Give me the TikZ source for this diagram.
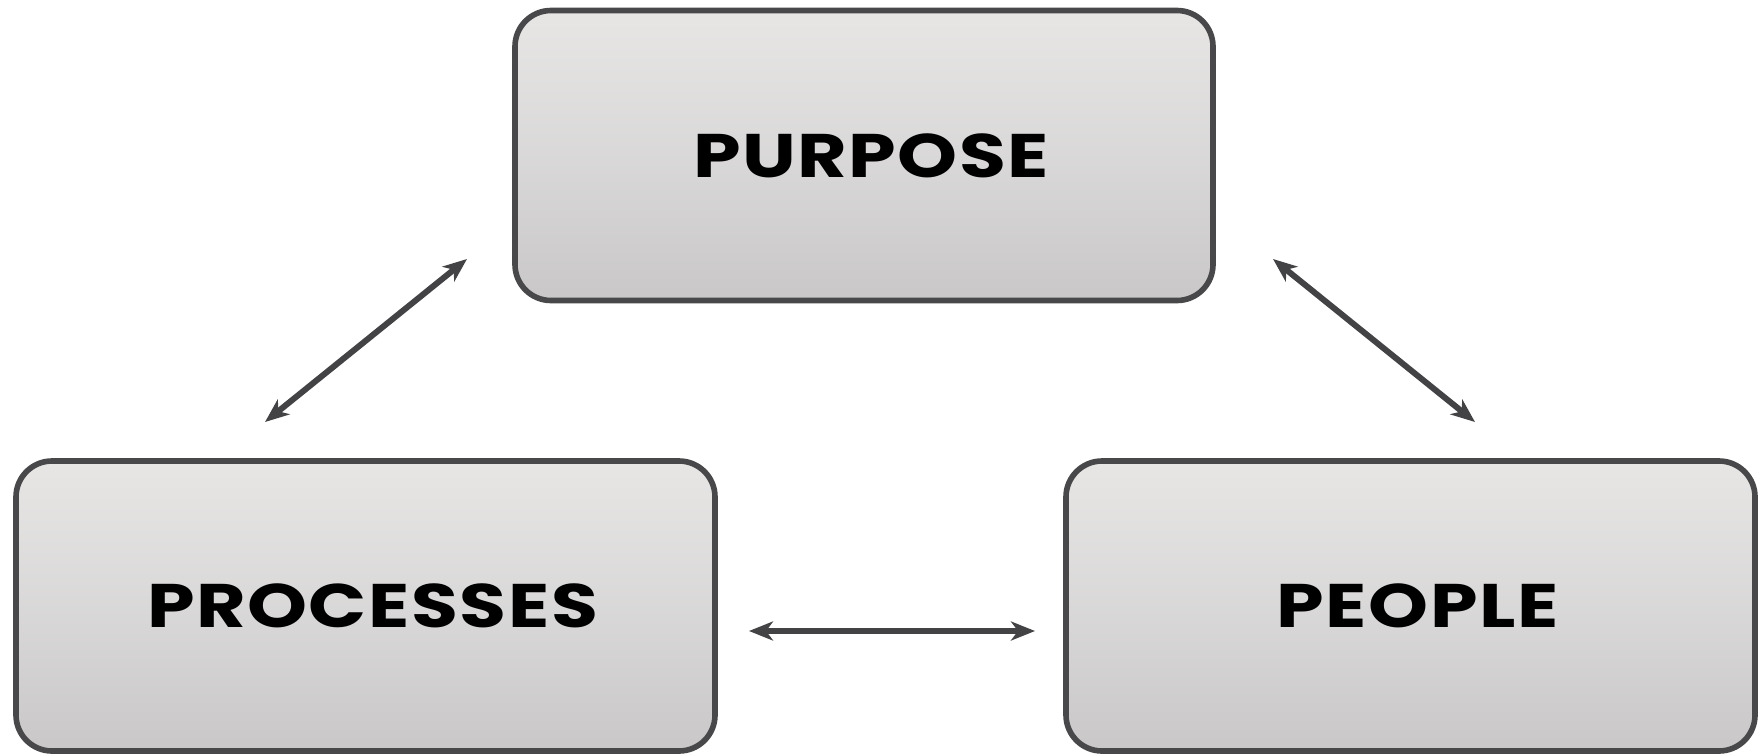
\documentclass[tikz,border=0pt]{standalone}
\usepackage{fontspec}
\setmainfont{Poppins}[LetterSpace=2]
\usetikzlibrary{arrows.meta}

\definecolor{boxtop}{HTML}{E7E6E5}
\definecolor{boxbot}{HTML}{C9C7C8}
\definecolor{edge}{HTML}{48484A}
\definecolor{arrowgray}{HTML}{434346}

\newcommand{\boxlabel}[1]{\hspace*{0.14cm}\scalebox{1.24}[1]{#1}}

\tikzset{
    box/.style={rounded corners=0.36cm, draw=edge, line width=1.6pt,
        top color=boxtop, bottom color=boxbot, middle color=boxtop!55!boxbot,
        minimum height=2.9cm, font=\fontsize{17.5}{21}\selectfont\bfseries,
        text=black, inner sep=0pt},
    link/.style={arrowgray, line width=1.7pt,
        {Stealth[length=0.24cm, width=0.19cm, inset=0.07cm]}-{Stealth[length=0.24cm, width=0.19cm, inset=0.07cm]}}
}

\begin{document}
\begin{tikzpicture}
\useasboundingbox (0, 0) rectangle (17.58, -7.53);
    \node[box, minimum width=6.98cm] (a) at (8.64, -1.555) {\boxlabel{PURPOSE}};
    \node[box, minimum width=6.99cm] (b) at (3.655, -6.06) {\boxlabel{PROCESSES}};
    \node[box, minimum width=6.89cm] (c) at (14.105, -6.06) {\boxlabel{PEOPLE}};

    \coordinate (ab1) at (4.67, -2.59);
    \coordinate (ab2) at (2.65, -4.22);
    \coordinate (ac1) at (12.73, -2.59);
    \coordinate (ac2) at (14.75, -4.22);
    \coordinate (bc1) at (7.49, -6.31);
    \coordinate (bc2) at (10.35, -6.31);

    \draw[link] (ab1) -- (ab2);
    \draw[link] (ac1) -- (ac2);
    \draw[link] (bc1) -- (bc2);
\end{tikzpicture}
\end{document}
